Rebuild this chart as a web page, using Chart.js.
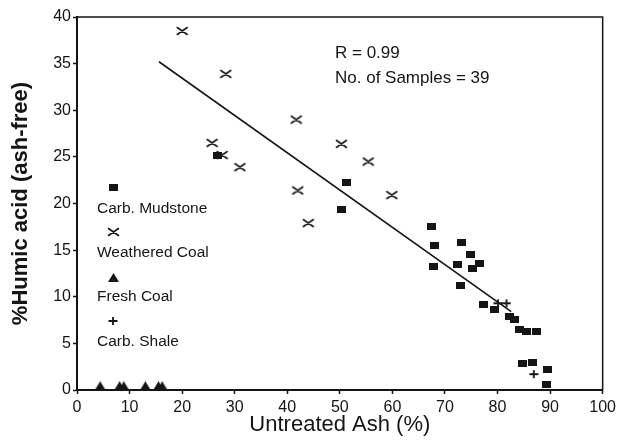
<!DOCTYPE html>
<html>
<head>
<meta charset="utf-8">
<script src="https://cdn.jsdelivr.net/npm/chart.js@4.4.0/dist/chart.umd.min.js"></script>
<style>
  html, body { margin: 0; padding: 0; background: #fff; }
  #chart { display: block; }
</style>
</head>
<body>
<canvas id="chart" width="620" height="446"></canvas>
<script>
// ---- Data ----
const mudstoneX = [26.8, 50.4, 51.3, 67.4, 68.1, 67.9, 73.2, 74.8, 72.3, 76.6, 75.2, 72.9, 77.4, 79.5, 82.3, 83.3, 84.2, 85.5, 87.5, 84.7, 86.6, 89.6, 89.3];
const mudstoneY = [25.2, 19.4, 22.3, 17.5, 15.5, 13.2, 15.8, 14.5, 13.5, 13.6, 13.0, 11.25, 9.2, 8.65, 7.85, 7.6, 6.5, 6.25, 6.25, 2.85, 2.95, 2.2, 0.6];

const weatheredX = [20.0, 28.3, 41.7, 25.7, 27.6, 31.0, 42.0, 50.3, 55.4, 59.9, 44.0];
const weatheredY = [38.5, 33.9, 29.0, 26.5, 25.2, 23.9, 21.4, 26.4, 24.5, 20.9, 17.9];

const freshX = [4.4, 8.1, 8.9, 13.0, 15.5, 16.2];
const freshY = [0.45, 0.45, 0.45, 0.45, 0.45, 0.45];

const shaleX = [80.1, 81.7, 86.9];
const shaleY = [9.3, 9.3, 1.7];

const fitX = [15.6, 82.6];
const fitY = [35.2, 8.4];

const xTicksMax = 100;
const yTicksMax = 40;

const INK = '#151515';
const FONT = '"Liberation Sans", Arial, Helvetica, sans-serif';

function zip(xs, ys) {
  return xs.map((x, i) => ({ x: x, y: ys[i] }));
}

// ---- Marker images ----
function makeMarker(w, h, draw) {
  const c = document.createElement('canvas');
  c.width = w; c.height = h;
  const g = c.getContext('2d');
  g.fillStyle = INK;
  g.strokeStyle = INK;
  draw(g, w, h);
  return c;
}

const squareImg = makeMarker(9, 7, (g, w, h) => g.fillRect(0, 0, w, h));
const triangleImg = makeMarker(11, 9, (g, w, h) => {
  g.beginPath(); g.moveTo(w / 2, 0); g.lineTo(w, h); g.lineTo(0, h); g.closePath(); g.fill();
});
const crossImg = makeMarker(13, 10, (g, w, h) => {
  g.lineWidth = 1.6;
  g.lineCap = 'round';
  g.beginPath(); g.moveTo(1.5, 1.5); g.lineTo(w - 1.5, h - 1.5); g.moveTo(w - 1.5, 1.5); g.lineTo(1.5, h - 1.5); g.stroke();
});
const plusImg = makeMarker(10, 10, (g, w, h) => {
  g.lineWidth = 1.8;
  g.beginPath(); g.moveTo(0.5, h / 2); g.lineTo(w - 0.5, h / 2); g.moveTo(w / 2, 1); g.lineTo(w / 2, h - 1); g.stroke();
});

// ---- Frame, annotation and in-plot legend ----
const extrasPlugin = {
  id: 'extras',
  afterDraw(chart) {
    const { ctx, chartArea: a } = chart;
    ctx.save();
    ctx.strokeStyle = INK;
    ctx.lineWidth = 1.5;
    ctx.strokeRect(a.left, a.top, a.right - a.left, a.bottom - a.top);

    ctx.fillStyle = INK;
    ctx.textBaseline = 'middle';
    ctx.textAlign = 'left';
    ctx.font = '17px ' + FONT;
    ctx.fillText('R = 0.99', 335, 53);
    ctx.fillText('No. of Samples = 39', 335, 78);

    const legend = [
      { img: squareImg, label: 'Carb. Mudstone', my: 187, ty: 209 },
      { img: crossImg, label: 'Weathered Coal', my: 232, ty: 253 },
      { img: triangleImg, label: 'Fresh Coal', my: 277, ty: 297 },
      { img: plusImg, label: 'Carb. Shale', my: 321, ty: 342 }
    ];
    ctx.font = '15.5px ' + FONT;
    legend.forEach(l => {
      ctx.drawImage(l.img, Math.round(113 - l.img.width / 2), Math.round(l.my - l.img.height / 2));
      ctx.fillText(l.label, 97, l.ty);
    });
    ctx.restore();
  }
};

const tickFont = { family: FONT, size: 16 };

new Chart(document.getElementById('chart'), {
  type: 'scatter',
  data: {
    datasets: [
      { label: 'Carb. Mudstone', data: zip(mudstoneX, mudstoneY), pointStyle: squareImg, pointRadius: 5 },
      { label: 'Weathered Coal', data: zip(weatheredX, weatheredY), pointStyle: crossImg, pointRadius: 5 },
      { label: 'Fresh Coal', data: zip(freshX, freshY), pointStyle: triangleImg, pointRadius: 5 },
      { label: 'Carb. Shale', data: zip(shaleX, shaleY), pointStyle: plusImg, pointRadius: 5 },
      {
        type: 'line', label: 'Fit', data: zip(fitX, fitY),
        borderColor: INK, borderWidth: 1.6, pointRadius: 0, showLine: true, fill: false
      }
    ]
  },
  options: {
    responsive: false,
    animation: false,
    events: [],
    layout: { padding: { top: 17, right: 14, left: 0, bottom: 0 } },
    plugins: { legend: { display: false }, tooltip: { enabled: false } },
    scales: {
      x: {
        type: 'linear', min: 0, max: xTicksMax,
        ticks: { stepSize: 10, color: INK, font: tickFont, padding: 4, maxRotation: 0 },
        grid: { drawOnChartArea: false, color: INK, tickLength: 4, tickWidth: 1.5 },
        border: { color: INK, width: 2 },
        title: { display: true, text: 'Untreated Ash (%)', color: INK, font: { family: FONT, size: 22 }, padding: { top: 0, bottom: 8 } },
        afterFit(s) { s.height = 56; }
      },
      y: {
        type: 'linear', min: 0, max: yTicksMax,
        ticks: { stepSize: 5, color: INK, font: tickFont, padding: 2 },
        grid: { drawOnChartArea: false, color: INK, tickLength: 4, tickWidth: 1.5 },
        border: { color: INK, width: 2 },
        title: { display: true, text: '%Humic acid (ash-free)', color: INK, font: { family: FONT, size: 22, weight: 'bold' }, padding: { top: 8, bottom: 0 } },
        afterFit(s) { s.width = 77; }
      }
    }
  },
  plugins: [extrasPlugin]
});
</script>
</body>
</html>
